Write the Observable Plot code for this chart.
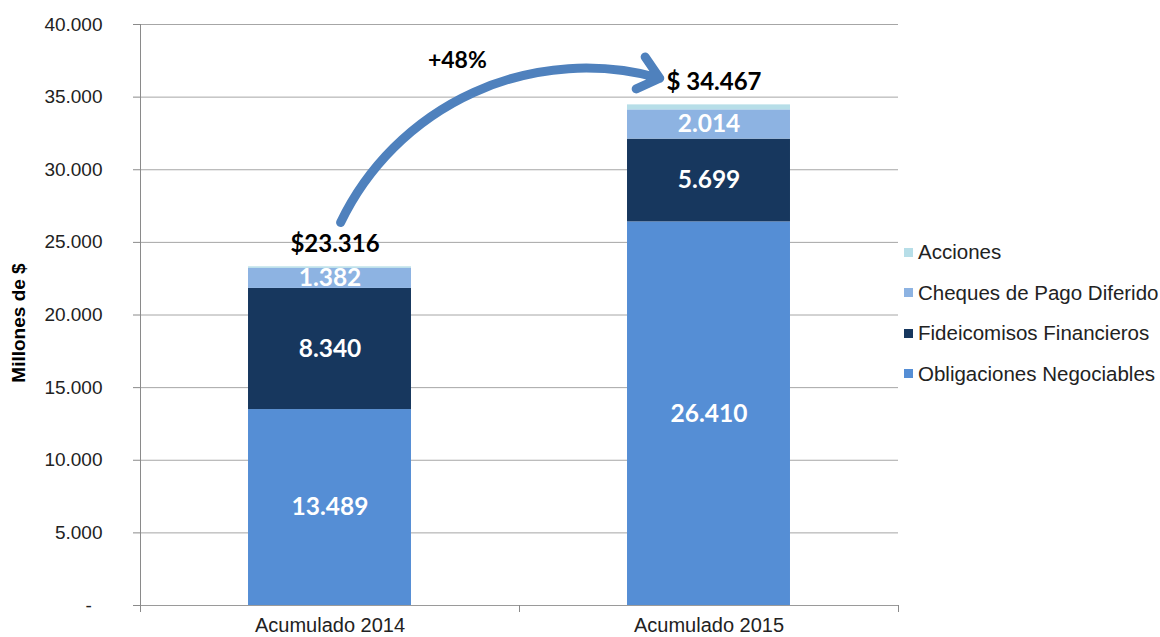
<!DOCTYPE html>
<html>
<head>
<meta charset="utf-8">
<script src="https://cdn.jsdelivr.net/npm/d3@7"></script>
<script src="https://cdn.jsdelivr.net/npm/@observablehq/plot@0.6"></script>
<style>
  html, body { margin: 0; padding: 0; background: #fff; }
  #wrap { position: relative; width: 1160px; height: 637px; overflow: hidden; }
  #legend { position: absolute; left: 904px; top: 232px; font-family: "Liberation Sans", Arial, sans-serif; font-size: 20.5px; color: #222; }
  #legend .item { display: flex; align-items: center; height: 40.5px; white-space: nowrap; }
  #legend .sw { width: 9px; height: 9px; margin-right: 5px; flex: none; }
</style>
</head>
<body>
<div id="wrap"><div id="chart"></div><div id="legend"></div></div>
<script>
const categories = ["Acumulado 2014", "Acumulado 2015"];
const series = ["Obligaciones Negociables", "Fideicomisos Financieros", "Cheques de Pago Diferido", "Acciones"];
const seriesColors = ["#558ed5", "#17375e", "#8db3e2", "#b7dee8"];
const obligaciones = [13489, 26410];
const fideicomisos = [8340, 5699];
const cheques = [1382, 2014];
const acciones = [105, 344];
const totals = [23316, 34467];
const totalLabels = ["$23.316", "$ 34.467"];
const yTicks = [0, 5000, 10000, 15000, 20000, 25000, 30000, 35000, 40000];
const legendOrder = ["Acciones", "Cheques de Pago Diferido", "Fideicomisos Financieros", "Obligaciones Negociables"];
const growthLabel = "+48%";
const growthArrow = {x1: 0.528, y1: 26370, x2: 1.37, y2: 36300};
const growthText = {x: 0.836, y: 37520};

const values = [obligaciones, fideicomisos, cheques, acciones];
const fmt = d => d3.format(",")(d).replace(/,/g, ".");

const rows = [];
categories.forEach((c, i) => {
  let base = 0;
  series.forEach((s, j) => {
    const v = values[j][i];
    rows.push({cat: c, i, series: s, value: v, y1: base, y2: base + v});
    base += v;
  });
});

const half = 0.215;
const chart = Plot.plot({
  width: 1160,
  height: 637,
  marginLeft: 140,
  marginRight: 262,
  marginTop: 24,
  marginBottom: 32,
  style: {fontFamily: "'Liberation Sans', Arial, sans-serif", fontSize: "19px", color: "#222", background: "#fff"},
  x: {domain: [0, 2], axis: null},
  y: {domain: [0, 40000], axis: null},
  color: {domain: series, range: seriesColors},
  marks: [
    Plot.gridY(yTicks.filter(d => d > 0), {stroke: "#a6a6a6", strokeOpacity: 1}),
    Plot.rect(rows, {x1: d => d.i + 0.5 - half, x2: d => d.i + 0.5 + half, y1: "y1", y2: "y2", fill: "series"}),
    Plot.ruleY([0], {stroke: "#9a9a9a"}),
    Plot.ruleX([0], {stroke: "#8a8a8a"}),
    Plot.axisY({ticks: yTicks, tickSize: 7, tickPadding: 31, stroke: "#8a8a8a", tickFormat: d => d === 0 ? "-\u00a0\u00a0" : fmt(d), label: null}),
    Plot.axisX({ticks: [0, 1, 2], tickSize: 7, stroke: "#8a8a8a", tickFormat: () => "", label: null}),
    Plot.axisX({ticks: [0.5, 1.5], tickSize: 0, tickPadding: 12, fontSize: 20, tickFormat: d => categories[Math.floor(d)], label: null}),
    Plot.text(rows.filter(d => d.series !== "Acciones"), {
      x: d => d.i + 0.5, y: d => (d.y1 + d.y2) / 2, text: d => fmt(d.value),
      fill: "white", fontFamily: "Lato, sans-serif", fontWeight: "bold", fontSize: 24.5
    }),
    Plot.text(categories, {
      x: (d, i) => i + 0.5, y: (d, i) => totals[i], text: (d, i) => totalLabels[i],
      dx: 5, dy: -23, fill: "black", fontFamily: "Lato, sans-serif", fontWeight: "bold", fontSize: 24
    }),
    Plot.arrow([growthArrow], {x1: "x1", y1: "y1", x2: "x2", y2: "y2", bend: 40, stroke: "#4f81bd", strokeWidth: 9, strokeLinejoin: "miter", headLength: 4.3, headAngle: 80}),
    Plot.text([growthText], {x: "x", y: "y", text: () => growthLabel, fill: "black", fontFamily: "Lato, sans-serif", fontWeight: "bold", fontSize: 23}),
    Plot.text(["Millones de $"], {frameAnchor: "left", textAnchor: "middle", dx: -122, dy: 8, rotate: -90, text: d => d, fontWeight: "bold", fontSize: 19, fill: "black"})
  ]
});
document.getElementById("chart").appendChild(chart);

const legend = document.getElementById("legend");
legendOrder.forEach(name => {
  const item = document.createElement("div");
  item.className = "item";
  const sw = document.createElement("span");
  sw.className = "sw";
  sw.style.background = seriesColors[series.indexOf(name)];
  const lab = document.createElement("span");
  lab.textContent = name;
  item.appendChild(sw);
  item.appendChild(lab);
  legend.appendChild(item);
});
</script>
</body>
</html>
